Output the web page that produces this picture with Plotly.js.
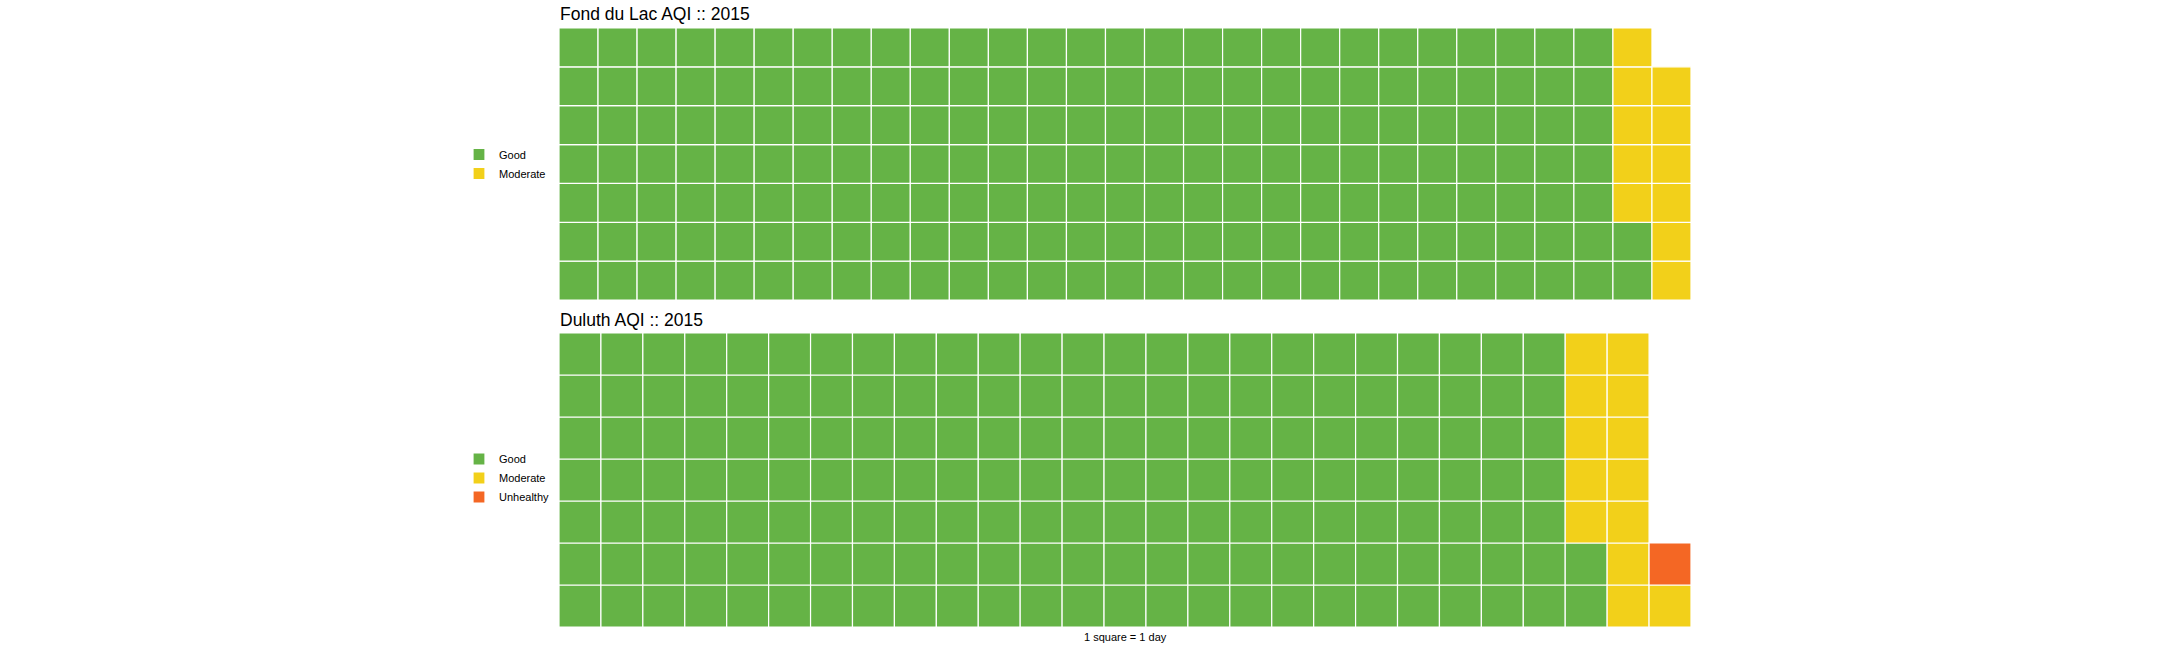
<!DOCTYPE html>
<html>
<head>
<meta charset="utf-8">
<script src="https://cdn.plot.ly/plotly-3.0.1.min.js"></script>
<style>html,body{margin:0;padding:0;background:#fff;}#chart{width:2160px;height:648px;}</style>
</head>
<body>
<div id="chart"></div>
<script>
// ---- data ----
const categories = ["Good", "Moderate", "Unhealthy"];
const categoryColors = ["#65b346", "#f2d01a", "#f46724"];
const fondDuLacTitle = "Fond du Lac AQI :: 2015";
const fondDuLacDays = [191, 11, 0];
const duluthTitle = "Duluth AQI :: 2015";
const duluthDays = [170, 13, 1];
const rowsPerColumn = 7;
const captionText = "1 square = 1 day";

// ---- waffle builder: fill column by column, bottom to top ----
function waffleTraces(counts, xaxis, yaxis, legendId) {
  const traces = [];
  let idx = 0;
  counts.forEach((n, k) => {
    if (n <= 0) { return; }
    const xs = [], bases = [], ys = [];
    for (let i = 0; i < n; i++, idx++) {
      xs.push(Math.floor(idx / rowsPerColumn) + 1);
      bases.push(idx % rowsPerColumn);
      ys.push(1);
    }
    traces.push({
      type: "bar", name: categories[k], x: xs, y: ys, base: bases, width: 1,
      xaxis: xaxis, yaxis: yaxis, legend: legendId,
      marker: {color: categoryColors[k], line: {color: "#ffffff", width: 1.2}},
      hoverinfo: "name"
    });
  });
  return traces;
}
function nCols(counts) {
  return Math.ceil(counts.reduce((a, b) => a + b, 0) / rowsPerColumn);
}

const W = 2160, H = 648;
const px = v => v / W, py = v => 1 - v / H;

const data = [].concat(
  waffleTraces(fondDuLacDays, "x", "y", "legend"),
  waffleTraces(duluthDays, "x2", "y2", "legend2")
);

const hidden = {visible: false, showgrid: false, zeroline: false, fixedrange: true};
const font = "Liberation Sans, Arial, sans-serif";

const layout = {
  width: W, height: H,
  margin: {l: 0, r: 0, t: 0, b: 0},
  paper_bgcolor: "#ffffff", plot_bgcolor: "#ffffff",
  barmode: "overlay", bargap: 0,
  font: {family: font, color: "#000000"},
  xaxis: Object.assign({domain: [px(559), px(1691)], range: [0.5, nCols(fondDuLacDays) + 0.5], anchor: "y"}, hidden),
  yaxis: Object.assign({domain: [py(300), py(28)], range: [0, rowsPerColumn], anchor: "x"}, hidden),
  xaxis2: Object.assign({domain: [px(559), px(1691)], range: [0.5, nCols(duluthDays) + 0.5], anchor: "y2"}, hidden),
  yaxis2: Object.assign({domain: [py(627), py(333)], range: [0, rowsPerColumn], anchor: "x2"}, hidden),
  legend: {x: px(459), xanchor: "left", y: py(164), yanchor: "middle", font: {size: 11, family: font},
           bgcolor: "rgba(0,0,0,0)", itemclick: false, tracegroupgap: 0},
  legend2: {x: px(459), xanchor: "left", y: py(478), yanchor: "middle", font: {size: 11, family: font},
            bgcolor: "rgba(0,0,0,0)", itemclick: false, tracegroupgap: 0},
  annotations: [
    {text: fondDuLacTitle, xref: "paper", yref: "paper", x: px(558), y: py(14), xanchor: "left", yanchor: "middle",
     showarrow: false, font: {size: 17.5, family: font}},
    {text: duluthTitle, xref: "paper", yref: "paper", x: px(558), y: py(320), xanchor: "left", yanchor: "middle",
     showarrow: false, font: {size: 17.5, family: font}},
    {text: captionText, xref: "paper", yref: "paper", x: px(1125), y: py(637), xanchor: "center", yanchor: "middle",
     showarrow: false, font: {size: 11, family: font}}
  ]
};

Plotly.newPlot("chart", data, layout, {displayModeBar: false, staticPlot: true});
</script>
</body>
</html>
